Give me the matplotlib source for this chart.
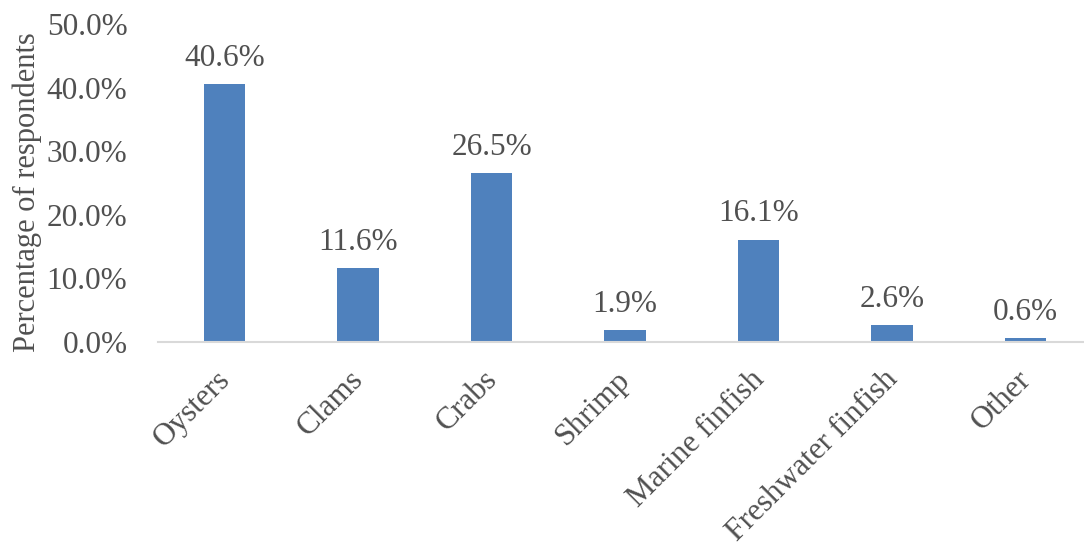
import matplotlib.pyplot as plt
import matplotlib.transforms as mtransforms
import numpy as np

plt.rcParams["font.family"] = ["Liberation Serif", "DejaVu Serif"]

categories = ["Oysters", "Clams", "Crabs", "Shrimp", "Marine finfish",
              "Freshwater finfish", "Other"]
values = [40.6, 11.6, 26.5, 1.9, 16.1, 2.6, 0.6]
yticks = [0, 10, 20, 30, 40, 50]

BAR = "#4F81BD"
TXT = "#505050"
W, H = 1084, 546

fig = plt.figure(figsize=(W / 100, H / 100), dpi=100)
ax = fig.add_axes([158 / W, 1 - 342 / H, 1 - 158 / W, (342 - 24) / H])

x = np.arange(len(categories))
ax.bar(x, values, 0.31, color=BAR, zorder=2)
for xi, v in zip(x, values):
    ax.annotate(f"{v:.1f}%", (xi, v), xytext=(0, 8), textcoords="offset points",
                ha="center", va="bottom", fontsize=22.5, color=TXT)

ax.set_xlim(-0.5, 6.44)
ax.set_ylim(0, 50)
ax.set_yticks(yticks)
ax.set_yticklabels([f"{t:.1f}%" for t in yticks], fontsize=22.5, color=TXT)
ax.set_xticks(x)
ax.set_xticklabels([])

# category labels, rotated, top-right corner just below each bar
lab_tr = ax.get_xaxis_transform() + mtransforms.ScaledTranslation(
    -9 / 100, -23 / 100, fig.dpi_scale_trans)
for xi, name in zip(x, categories):
    ax.text(xi, 0, name, transform=lab_tr, rotation=45, ha="right", va="top",
            rotation_mode="anchor", fontsize=22.5, color=TXT)

ax.tick_params(axis="both", length=0)
ax.tick_params(axis="y", pad=22)
ax.set_ylabel("Percentage of respondents", fontsize=22, color=TXT)
ax.yaxis.set_label_coords(-(158 - 42) / (W - 158), (342 - 192) / (342 - 24))

for s in ("top", "right", "left"):
    ax.spines[s].set_visible(False)
ax.spines["bottom"].set_color("#D9D9D9")
ax.spines["bottom"].set_linewidth(1.5)

fig.savefig("out.png", dpi=100)
